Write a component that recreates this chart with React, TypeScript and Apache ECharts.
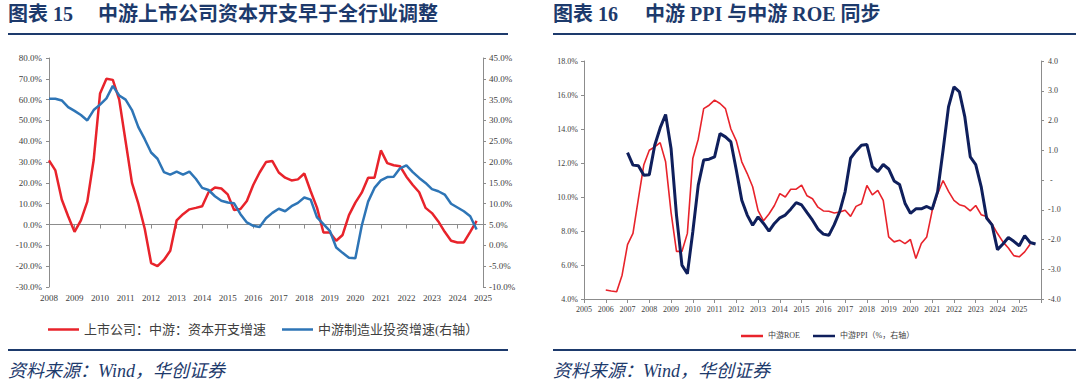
import React, { useEffect, useRef } from "react";
import * as echarts from "echarts";

// ---------- data ----------
function quarterLabels(startYear: number, endYear: number): string[] {
  const out: string[] = [];
  for (let y = startYear; y < endYear; y++) {
    for (let q = 1; q <= 4; q++) out.push(`${y}Q${q}`);
  }
  out.push(`${endYear}Q1`);
  return out;
}

const leftCategories = quarterLabels(2008, 2025);
const rightCategories = quarterLabels(2005, 2026);

const capexName = "上市公司：中游：资本开支增速";
const mfgName = "中游制造业投资增速(右轴）";
const roeName = "中游ROE";
const ppiName = "中游PPI（%，右轴）";

// quarterly from 2008Q1, %
const capexGrowth = [
  30.8, 26, 12, 4, -3.5, 2, 11, 31, 63, 70, 69.5, 60, 40, 20, 10, -2,
  -18.5, -20, -17, -12.6, 2, 5, 7.3, 8, 8.8, 15.5, 17.8, 17.3, 14.5, 7, 7.5, 11.3,
  19, 25, 30, 30.5, 25, 22.5, 21.2, 21.7, 24.5, 16, 8, -3.8, -3.8, -7.8, -5, 4.5,
  10.5, 15.3, 22.5, 22.5, 35.6, 29.5, 28.5, 28, 23, 19, 15.5, 8, 5.5, 1.5, -3.5, -7.8,
  -8.6, -8.6, -3.5, 1.8,
];

// quarterly from 2008Q1, % (right axis)
const mfgInvestGrowth = [
  35.2, 35.2, 34.8, 33.2, 32.3, 31.3, 30, 32.5, 33.8, 35.3, 38.3, 36, 35, 32.5, 28.4, 25.5,
  22.3, 20.8, 17.6, 17, 17.7, 17, 17.7, 16, 13.8, 13.3, 11.8, 10.7, 10.3, 10.1, 7.5, 5.5,
  4.7, 4.4, 6.5, 7.8, 8.8, 8.2, 9.4, 10.2, 11.5, 11, 6.7, 5.1, 3.5, -0.5, -1.8, -3.0,
  -3.1, 4.7, 10.5, 13.8, 15.6, 16.4, 16.5, 18.5, 19.2, 17.6, 16.2, 15, 13.5, 13, 12.2, 10,
  9.1, 8.2, 7, 3.8,
];

// quarterly from 2006Q1, %
const roeStart = "2006Q1";
const roeValues = [
  4.53, 4.47, 4.43, 5.4, 7.2, 7.86, 9.9, 11.9, 12.75, 12.95, 13.2, 12.07, 9.1, 6.8, 6.8, 7.86,
  12.26, 13.4, 15.2, 15.4, 15.7, 15.5, 15.2, 14.0, 13.3, 12.07, 11.38, 10.6, 9.2, 8.6, 9.0, 9.5,
  10.2, 10.0, 10.46, 10.46, 10.7, 10.07, 9.9, 9.4, 9.18, 9.16, 9.06, 9.12, 9.22, 8.86, 9.45, 9.6,
  10.68, 10.13, 10.39, 9.8, 7.65, 7.36, 7.46, 7.26, 7.5, 6.38, 7.26, 7.65, 9.2, 10.2, 10.97, 10.33,
  9.8, 9.55, 9.45, 9.18, 9.5, 8.96, 8.85, 8.4, 7.85, 7.36, 7.0, 6.55, 6.48, 6.77, 7.22,
];

// quarterly from 2007Q1, % (right axis)
const ppiStart = "2007Q1";
const ppiValues = [
  0.92, 0.5, 0.48, 0.16, 0.18, 1.17, 1.75, 2.2, 1.06, -1.18, -2.86, -3.15, -1.74, -0.17, 0.67, 0.7,
  0.78, 1.56, 1.45, 1.28, 0.33, -0.68, -1.18, -1.52, -1.24, -1.46, -1.72, -1.46, -1.27, -1.18, -0.98, -0.76,
  -0.84, -1.1, -1.35, -1.65, -1.82, -1.86, -1.5, -1.06, -0.39, 0.73, 0.97, 1.17, 1.19, 0.45, 0.28, 0.52,
  0.37, -0.03, -0.15, -0.78, -1.12, -0.97, -0.97, -0.89, -0.98, -0.39, 1.0, 2.46, 3.13, 2.96, 2.12, 0.78,
  0.52, -0.22, -1.28, -1.51, -2.34, -2.15, -1.93, -2.06, -2.21, -1.87, -2.1, -2.15,
];

function alignTo(cats: string[], start: string, values: number[]): (number | null)[] {
  const s = cats.indexOf(start);
  return cats.map((_, i) => (i >= s && i - s < values.length ? values[i - s] : null));
}

// ---------- styles ----------
const NAVY = "#1d3a6c";
const AXIS = "#8c8c8c";
const LABEL = "#404040";
const SERIF = "'Times New Roman', 'Liberation Serif', 'Noto Sans CJK SC', serif";
const RED = "#e8232b";
const BLUE = "#2e75b6";
const DARKNAVY = "#0f1f5c";

export default function App() {
  const ref = useRef<HTMLDivElement>(null);

  useEffect(() => {
    if (!ref.current) return;
    const chart = echarts.init(ref.current, undefined, { renderer: "svg" });

    const yearLabel = (v: string) => v.slice(0, 4);

    const option: any = {
      animation: false,
      backgroundColor: "#ffffff",
      grid: [
        { left: 49, top: 58, width: 434, height: 229, containLabel: false },
        { left: 584, top: 61, width: 457, height: 238, containLabel: false },
      ],
      xAxis: [
        {
          type: "category",
          gridIndex: 0,
          data: leftCategories,
          boundaryGap: false,
          axisLine: { show: false, onZero: false },
          axisTick: { show: false },
          splitLine: { show: false },
          axisLabel: {
            interval: 3,
            formatter: yearLabel,
            fontSize: 9,
            color: LABEL,
            fontFamily: SERIF,
            margin: 6,
          },
        },
        {
          type: "category",
          gridIndex: 0,
          data: leftCategories,
          boundaryGap: false,
          position: "bottom",
          axisLine: { show: true, onZero: true, onZeroAxisIndex: 0, lineStyle: { color: AXIS, width: 1 } },
          axisTick: { show: true, interval: 3, length: 4, lineStyle: { color: AXIS } },
          axisLabel: { show: false },
          splitLine: { show: false },
        },
        {
          type: "category",
          gridIndex: 1,
          data: rightCategories,
          boundaryGap: false,
          axisLine: { show: true, onZero: false, lineStyle: { color: AXIS, width: 1 } },
          axisTick: { show: true, interval: 3, length: 4, lineStyle: { color: AXIS } },
          splitLine: { show: false },
          axisLabel: {
            interval: (i: number, v: string) => i % 4 === 0 && v !== "2026Q1",
            formatter: yearLabel,
            fontSize: 8,
            color: LABEL,
            fontFamily: SERIF,
            margin: 6,
          },
        },
      ],
      yAxis: [
        {
          type: "value",
          gridIndex: 0,
          position: "left",
          min: -30,
          max: 80,
          interval: 10,
          axisLine: { show: true, lineStyle: { color: AXIS } },
          axisTick: { show: true, length: 3, lineStyle: { color: AXIS } },
          splitLine: { show: false },
          axisLabel: {
            formatter: (v: number) => v.toFixed(1) + "%",
            fontSize: 9,
            color: LABEL,
            fontFamily: SERIF,
            margin: 7,
          },
        },
        {
          type: "value",
          gridIndex: 0,
          position: "right",
          min: -10,
          max: 45,
          interval: 5,
          axisLine: { show: true, lineStyle: { color: AXIS } },
          axisTick: { show: true, length: 3, lineStyle: { color: AXIS } },
          splitLine: { show: false },
          axisLabel: {
            formatter: (v: number) => v.toFixed(1) + "%",
            fontSize: 9,
            color: LABEL,
            fontFamily: SERIF,
            margin: 6,
          },
        },
        {
          type: "value",
          gridIndex: 1,
          position: "left",
          min: 4,
          max: 18,
          interval: 2,
          axisLine: { show: true, lineStyle: { color: AXIS } },
          axisTick: { show: true, length: 3, lineStyle: { color: AXIS } },
          splitLine: { show: false },
          axisLabel: {
            formatter: (v: number) => v.toFixed(1) + "%",
            fontSize: 8,
            color: LABEL,
            fontFamily: SERIF,
            margin: 6,
          },
        },
        {
          type: "value",
          gridIndex: 1,
          position: "right",
          min: -4,
          max: 4,
          interval: 1,
          axisLine: { show: true, lineStyle: { color: AXIS } },
          axisTick: { show: true, length: 3, lineStyle: { color: AXIS } },
          splitLine: { show: false },
          axisLabel: {
            formatter: (v: number) => (Math.abs(v) < 1e-9 ? " -" : v.toFixed(1)),
            fontSize: 8,
            color: LABEL,
            fontFamily: SERIF,
            margin: 7,
          },
        },
      ],
      legend: [
        {
          data: [capexName, mfgName],
          left: 43,
          top: 318,
          icon: "rect",
          itemWidth: 31,
          itemHeight: 2.5,
          itemGap: 16,
          textStyle: { fontSize: 13, color: LABEL, fontFamily: SERIF },
        },
        {
          data: [roeName, ppiName],
          left: 736,
          top: 327,
          icon: "rect",
          itemWidth: 22,
          itemHeight: 2.5,
          itemGap: 13,
          textStyle: { fontSize: 8, color: LABEL, fontFamily: SERIF },
        },
      ],
      series: [
        {
          name: capexName,
          type: "line",
          xAxisIndex: 0,
          yAxisIndex: 0,
          data: capexGrowth,
          symbol: "none",
          color: RED,
          lineStyle: { color: RED, width: 2.5 },
        },
        {
          name: mfgName,
          type: "line",
          xAxisIndex: 0,
          yAxisIndex: 1,
          data: mfgInvestGrowth,
          symbol: "none",
          color: BLUE,
          lineStyle: { color: BLUE, width: 2.5 },
        },
        {
          name: roeName,
          type: "line",
          xAxisIndex: 2,
          yAxisIndex: 2,
          data: alignTo(rightCategories, roeStart, roeValues),
          symbol: "none",
          color: RED,
          lineStyle: { color: RED, width: 1.6 },
        },
        {
          name: ppiName,
          type: "line",
          xAxisIndex: 2,
          yAxisIndex: 3,
          data: alignTo(rightCategories, ppiStart, ppiValues),
          symbol: "none",
          color: DARKNAVY,
          lineStyle: { color: DARKNAVY, width: 3 },
        },
      ],
      graphic: [
        {
          type: "text",
          left: 8,
          top: 4,
          style: { text: "图表 15", fontSize: 20, fontWeight: "bold", fill: NAVY, fontFamily: SERIF },
        },
        {
          type: "text",
          left: 98,
          top: 4,
          style: {
            text: "中游上市公司资本开支早于全行业调整",
            fontSize: 20,
            fontWeight: "bold",
            fill: NAVY,
            fontFamily: SERIF,
          },
        },
        {
          type: "text",
          left: 553,
          top: 4,
          style: { text: "图表 16", fontSize: 20, fontWeight: "bold", fill: NAVY, fontFamily: SERIF },
        },
        {
          type: "text",
          left: 645,
          top: 4,
          style: {
            text: "中游 PPI 与中游 ROE 同步",
            fontSize: 20,
            fontWeight: "bold",
            fill: NAVY,
            fontFamily: SERIF,
          },
        },
        { type: "line", shape: { x1: 8, y1: 34, x2: 508, y2: 34 }, style: { stroke: NAVY, lineWidth: 2 } },
        { type: "line", shape: { x1: 553, y1: 34, x2: 1076, y2: 34 }, style: { stroke: NAVY, lineWidth: 2 } },
        { type: "line", shape: { x1: 8, y1: 350, x2: 508, y2: 350 }, style: { stroke: NAVY, lineWidth: 2 } },
        { type: "line", shape: { x1: 553, y1: 350, x2: 1076, y2: 350 }, style: { stroke: NAVY, lineWidth: 2 } },
        {
          type: "text",
          left: 8,
          top: 362,
          style: {
            text: "资料来源：Wind，华创证券",
            fontSize: 18,
            fontStyle: "italic",
            fill: NAVY,
            fontFamily: SERIF,
          },
        },
        {
          type: "text",
          left: 553,
          top: 362,
          style: {
            text: "资料来源：Wind，华创证券",
            fontSize: 18,
            fontStyle: "italic",
            fill: NAVY,
            fontFamily: SERIF,
          },
        },
      ],
    };

    chart.setOption(option);
    return () => chart.dispose();
  }, []);

  return (
    <div
      ref={ref}
      style={{ position: "absolute", left: 0, top: 0, width: 1080, height: 390, background: "#fff" }}
    />
  );
}
